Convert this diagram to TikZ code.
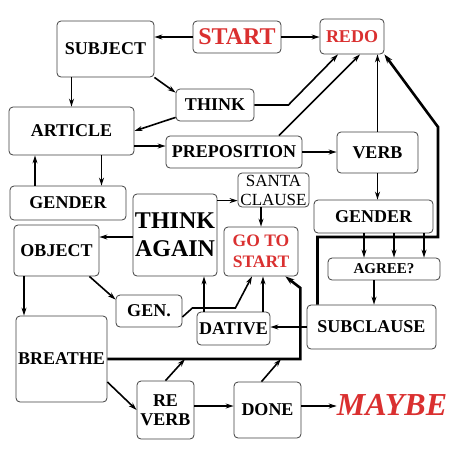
\documentclass[tikz,border=0pt]{standalone}
\usepackage{fontspec}
\setmainfont{Liberation Serif}
\usepackage{tikz}
\usetikzlibrary{calc, positioning, arrows.meta}
\definecolor{Chartred}{RGB}{218,48,48}

\begin{document}
\begin{tikzpicture}[
  x=1pt, y=-1pt,
  box/.style={draw=black!75, rounded corners=4pt, line width=0.8pt,
              inner sep=0pt, align=center, fill=white,
              font=\fontsize{18}{19}\selectfont\bfseries},
  redbox/.style={box, text=Chartred},
  arr/.style={-{Stealth[length=8pt, width=5pt]}, line width=1.6pt},
  thickarr/.style={-{Stealth[length=9pt, width=6pt]}, line width=2.6pt},
  thickline/.style={line width=2.6pt}
]
\useasboundingbox (0,0) rectangle (468,466);

%% ——— Fila 1 ———
\node[box, minimum width=97pt, minimum height=56pt] (subj) at (105.5, 49) {SUBJECT};
\node[redbox, minimum width=88pt, minimum height=32pt,
      font=\fontsize{24}{26}\selectfont\bfseries] (start) at (237, 37) {START};
\node[redbox, minimum width=64pt, minimum height=35pt] (redo) at (352, 36.5) {REDO};

%% ——— Fila 2 ———
\node[box, minimum width=78pt, minimum height=32pt] (think) at (215, 105) {THINK};
\node[box, minimum width=125pt, minimum height=48pt] (art) at (71.5, 131) {ARTICLE};
\node[box, minimum width=136pt, minimum height=32pt] (prep) at (234, 152) {PREPOSITION};
\node[box, minimum width=81pt, minimum height=41pt] (verb) at (377.5, 152.5) {VERB};

%% ——— Fila 3 ———
\node[box, minimum width=116pt, minimum height=34pt] (genl) at (68, 203) {GENDER};
\node[box, minimum width=84pt, minimum height=82pt,
      font=\fontsize{24}{28}\selectfont\bfseries] (again) at (175, 235) {THINK\\AGAIN};
\node[box, minimum width=71pt, minimum height=34pt,
      font=\fontsize{17}{19}\selectfont] (santa) at (273.5, 190) {SANTA\\CLAUSE};
\node[redbox, minimum width=74pt, minimum height=49pt,
      font=\fontsize{17.5}{21}\selectfont\bfseries] (goto) at (261, 251.5) {GO TO\\START};
\node[box, minimum width=119pt, minimum height=33pt] (genr) at (373.5, 216.5) {GENDER};
\node[box, minimum width=112pt, minimum height=22pt,
      font=\fontsize{15}{16}\selectfont\bfseries] (agree) at (384, 269) {AGREE?};
\node[box, minimum width=85pt, minimum height=51pt] (obj) at (56.5, 250.5) {OBJECT};

%% ——— Fila 4 ———
\node[box, minimum width=66pt, minimum height=32pt] (gen) at (149, 311) {GEN.};
\node[box, minimum width=73pt, minimum height=33pt] (dat) at (233.5, 328.5) {DATIVE};
\node[box, minimum width=129pt, minimum height=44pt] (subcl) at (371.5, 327) {SUBCLAUSE};
\node[box, minimum width=91pt, minimum height=86pt] (breathe) at (61.5, 359) {BREATHE};

%% ——— Fila 5 ———
\node[box, minimum width=57pt, minimum height=58pt] (rev) at (165.5, 410) {RE\\VERB};
\node[box, minimum width=67pt, minimum height=56pt] (done) at (267.5, 410) {DONE};
\node[inner sep=0pt, text=Chartred,
      font=\fontsize{32}{34}\selectfont\bfseries\itshape] (maybe) at (392, 405) {MAYBE};

\coordinate (j1) at (185, 359);
\coordinate (j2) at (281, 359);
\coordinate (rc) at (438, 237);

%% ——— Flechas de arriba ———
\draw[arr] (start.west) -- (start.west -| subj.east);
\draw[arr] (start.east) -- (start.east -| redo.west);
\draw[arr] (subj.south -| art) -- (art.north);
\draw[arr] (subj.south east) -- ([yshift=-4pt]think.north west);
\draw[arr] ([yshift=4pt]think.south west) -- (art.east);
\draw[arr] (think.east) -- ++(34,0) -- ([xshift=-14pt]redo.south);
\draw[arr] ([xshift=45pt]prep.north) -- ([xshift=8pt]redo.south);
\draw[arr] (verb.north) -- (verb.north |- redo.south);
\draw[arr] ([yshift=-15pt]art.east) -- ([yshift=-15pt]art.east -| prep.west);
\draw[arr] (prep.east) -- (prep.east -| verb.west);

%% ——— Centro ———
\draw[arr] ([xshift=-33pt]genl.north) -- ([xshift=-33pt]genl.north |- art.south);
\draw[arr] ([xshift=30pt]art.south) -- ([xshift=30pt]art.south |- genl.north);
\draw[arr] ([yshift=-2pt]again.west) -- ([yshift=-2pt]again.west -| obj.east);
\draw[arr] ([yshift=-7pt]again.north east) -- ([yshift=-7pt]again.north east -| santa.west);
\draw[arr] (santa.south -| goto) -- (goto.north);
\draw[arr] (verb.south) -- (verb.south |- genr.north);
\foreach \dx in {-20, 10, 40}
  \draw[arr] ([xshift=\dx pt]agree.north |- genr.south) -- ([xshift=\dx pt]agree.north);
\draw[arr] ([xshift=-10pt]agree.south) -- ([xshift=-10pt]agree.south |- subcl.north);
\draw[arr] (subcl.west) -- (subcl.west -| dat.east);
\draw[arr] ([xshift=-29.5pt]dat.north) -- ([xshift=-29.5pt]dat.north |- again.south);
\draw[arr] ([xshift=29.5pt]dat.north) -- ([xshift=29.5pt]dat.north |- goto.south);
\draw[arr] ([yshift=-6pt]gen.east) -- ++(10,-9) -- ++(43,0) -- ([xshift=-9pt]goto.south);
\draw[arr] ([xshift=-10pt]obj.south east) -- ([yshift=-5pt]gen.north west);
\draw[arr] ([xshift=-32.5pt]obj.south) -- ([xshift=-32.5pt]obj.south |- breathe.north);

%% ——— Abajo ———
\draw[arr] ([yshift=-23pt]breathe.east) -- (rev.west);
\draw[arr] ([yshift=4pt]rev.east) -- ([yshift=4pt]rev.east -| done.west);
\draw[arr] ([yshift=4pt]done.east) -- ([yshift=4pt]done.east -| maybe.west);
\draw[arr] (rev.north) -- (j1);
\draw[arr] ([xshift=-6pt]done.north) -- (j2);

%% ——— Líneas gruesas ———
\draw[thickarr] (breathe.east) -- ++(193,0) -- ++(0,-71) -- ([xshift=-13pt]goto.south east);
\draw[thickarr] ([xshift=-54pt]subcl.north) |- (rc) -- ++(0,-110) -- (redo.south east);

\end{tikzpicture}
\end{document}
